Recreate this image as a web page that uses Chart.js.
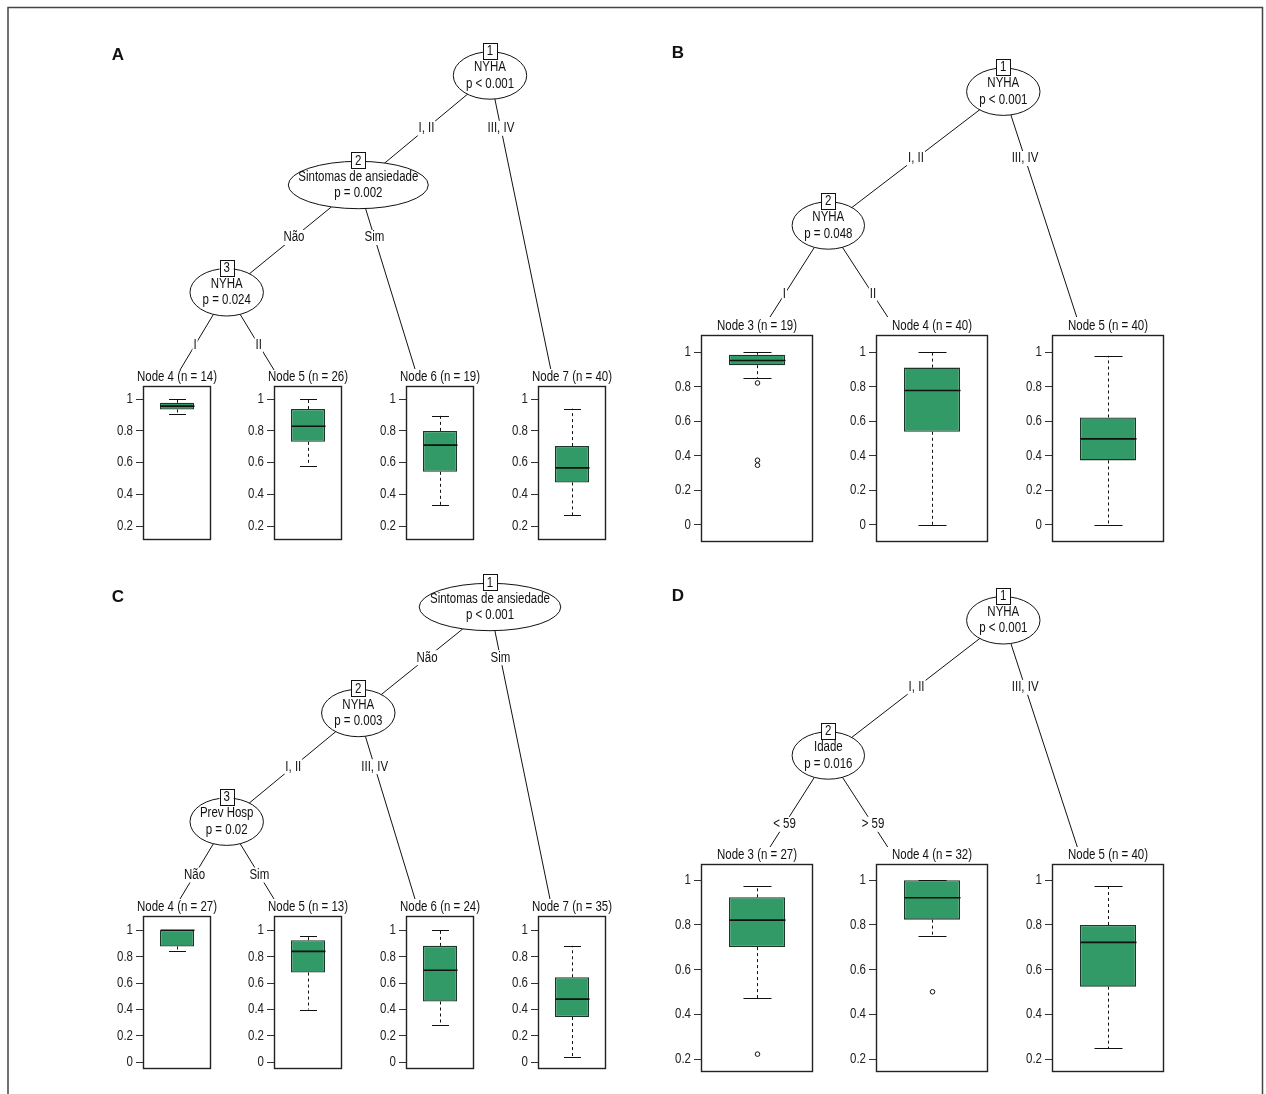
<!DOCTYPE html>
<html>
<head>
<meta charset="utf-8">
<script src="https://cdn.jsdelivr.net/npm/chart.js@4.4.1/dist/chart.umd.min.js"></script>
<style>
  body { margin: 0; background: #fff; }
  #page { position: relative; width: 1266px; height: 1094px; overflow: hidden; background: #fff; }
  #treeWrap { position: absolute; left: 0; top: 0; width: 1266px; height: 1094px; }
  .box { position: absolute; }
</style>
</head>
<body>
<div id="page">
  <div id="treeWrap"><canvas id="tree"></canvas></div>
</div>
<script>
// ---- data ----

// A
const nodesA = ['Node 4 (n = 14)', 'Node 5 (n = 26)', 'Node 6 (n = 19)', 'Node 7 (n = 40)'];
const lowA  = [0.906, 0.581, 0.333, 0.267];
const q1A   = [0.935, 0.731, 0.542, 0.475];
const medA  = [0.956, 0.829, 0.710, 0.567];
const q3A   = [0.977, 0.938, 0.800, 0.704];
const highA = [1.000, 1.000, 0.896, 0.940];
const outA  = [[], [], [], []];
const ticksA = [0.2, 0.4, 0.6, 0.8, 1];
const rangeA = [0.112, 1.083];

// B
const nodesB = ['Node 3 (n = 19)', 'Node 4 (n = 40)', 'Node 5 (n = 40)'];
const lowB  = [0.851, 0.000, 0.000];
const q1B   = [0.925, 0.539, 0.373];
const medB  = [0.952, 0.778, 0.498];
const q3B   = [0.986, 0.911, 0.622];
const highB = [1.000, 1.000, 0.979];
const outB  = [[0.822, 0.374, 0.345], [], []];
const ticksB = [0, 0.2, 0.4, 0.6, 0.8, 1];
const rangeB = [-0.1, 1.1];

// C
const nodesC = ['Node 4 (n = 27)', 'Node 5 (n = 13)', 'Node 6 (n = 24)', 'Node 7 (n = 35)'];
const lowC  = [0.842, 0.400, 0.281, 0.038];
const q1C   = [0.877, 0.680, 0.461, 0.343];
const medC  = [1.000, 0.840, 0.697, 0.479];
const q3C   = [1.000, 0.925, 0.882, 0.644];
const highC = [1.000, 0.960, 1.000, 0.882];
const outC  = [[], [], [], []];
const ticksC = [0, 0.2, 0.4, 0.6, 0.8, 1];
const rangeC = [-0.05, 1.108];

// D
const nodesD = ['Node 3 (n = 27)', 'Node 4 (n = 32)', 'Node 5 (n = 40)'];
const lowD  = [0.472, 0.749, 0.248];
const q1D   = [0.701, 0.824, 0.524];
const medD  = [0.822, 0.922, 0.722];
const q3D   = [0.924, 1.000, 0.800];
const highD = [0.975, 1.000, 0.975];
const outD  = [[0.222], [0.501], []];
const ticksD = [0.2, 0.4, 0.6, 0.8, 1];
const rangeD = [0.142, 1.073];

// tree nodes / splits
const treeA = {
  letter: 'A', lx: 118, ly: 55,
  nodes: [
    { id: 1, x: 490,   y: 75.5,  rx: 36.7, lines: ['NYHA', 'p < 0.001'] },
    { id: 2, x: 358.3, y: 185,   rx: 70,   lines: ['Sintomas de ansiedade', 'p = 0.002'] },
    { id: 3, x: 226.7, y: 292.3, rx: 36.7, lines: ['NYHA', 'p = 0.024'] }
  ],
  edges: [
    { from: 1, to: 2,            label: 'I, II',   ly: 128.3 },
    { from: 1, to: [550.7, 369], label: 'III, IV', ly: 128.3 },
    { from: 2, to: 3,            label: 'Não',     ly: 237.5 },
    { from: 2, to: [415, 369],   label: 'Sim',     ly: 237.5 },
    { from: 3, to: [180, 370],   label: 'I',       ly: 345 },
    { from: 3, to: [274, 370],   label: 'II',      ly: 345 }
  ]
};
const treeB = {
  letter: 'B', lx: 678, ly: 53,
  nodes: [
    { id: 1, x: 1003.3, y: 91.7,  rx: 36.7, lines: ['NYHA', 'p < 0.001'] },
    { id: 2, x: 828.3,  y: 225.5, rx: 36.2, lines: ['NYHA', 'p = 0.048'] }
  ],
  edges: [
    { from: 1, to: 2,             label: 'I, II',   ly: 158.5 },
    { from: 1, to: [1076.7, 317], label: 'III, IV', ly: 158.5 },
    { from: 2, to: [770, 317],    label: 'I',       ly: 294.3 },
    { from: 2, to: [887.7, 317],  label: 'II',      ly: 294.3 }
  ]
};
const treeC = {
  letter: 'C', lx: 118, ly: 597,
  nodes: [
    { id: 1, x: 490,   y: 607,   rx: 70.8, lines: ['Sintomas de ansiedade', 'p < 0.001'] },
    { id: 2, x: 358.3, y: 713,   rx: 36.7, lines: ['NYHA', 'p = 0.003'] },
    { id: 3, x: 226.7, y: 821.7, rx: 36.7, lines: ['Prev Hosp', 'p = 0.02'] }
  ],
  edges: [
    { from: 1, to: 2,          label: 'Não',     ly: 657.7 },
    { from: 1, to: [550, 899], label: 'Sim',     ly: 657.7 },
    { from: 2, to: 3,          label: 'I, II',   ly: 766.7 },
    { from: 2, to: [415, 899], label: 'III, IV', ly: 766.7 },
    { from: 3, to: [180, 899], label: 'Não',     ly: 875 },
    { from: 3, to: [274, 899], label: 'Sim',     ly: 875 }
  ]
};
const treeD = {
  letter: 'D', lx: 678, ly: 596,
  nodes: [
    { id: 1, x: 1003.3, y: 620.3, rx: 36.7, lines: ['NYHA', 'p < 0.001'] },
    { id: 2, x: 828.3,  y: 755.5, rx: 36.2, lines: ['Idade', 'p = 0.016'] }
  ],
  edges: [
    { from: 1, to: 2,             label: 'I, II',   ly: 687.3 },
    { from: 1, to: [1077.3, 847], label: 'III, IV', ly: 687.3 },
    { from: 2, to: [770, 847],    label: '< 59',    ly: 824.3 },
    { from: 2, to: [887.7, 847],  label: '> 59',    ly: 824.3 }
  ]
};

// ---- layout of the terminal panels (pixels) ----
const panelA = { lefts: [143, 274, 406, 538], width: 68, top: 386, bottom: 540 };
const panelB = { lefts: [701, 876, 1052], width: 112, top: 335, bottom: 542 };
const panelC = { lefts: [143, 274, 406, 538], width: 68, top: 916, bottom: 1069 };
const panelD = { lefts: [701, 876, 1052], width: 112, top: 864, bottom: 1072 };

// ---- fonts: narrow sans, or regular sans squeezed sideways ----
const probe = document.createElement('canvas').getContext('2d');
function textW(f) { probe.font = f; return probe.measureText('Sintomas de ansiedade').width; }
const hasNarrow = textW("14px 'Liberation Sans Narrow', monospace") !== textW('14px monospace');
const FONT = hasNarrow ? "'Liberation Sans Narrow', 'Arial Narrow', sans-serif" : "'Liberation Sans', Arial, sans-serif";
const FSIZE = 14;
const NX = hasNarrow ? 1 : 0.82;
const TXT = FSIZE + 'px ' + FONT;

Chart.defaults.font.family = FONT;
Chart.defaults.font.size = 12;
Chart.defaults.color = '#222';

function nText(ctx, s, x, y, align) {
  ctx.save();
  ctx.translate(x, y);
  ctx.scale(NX, 1);
  ctx.font = TXT;
  ctx.textAlign = align || 'center';
  ctx.textBaseline = 'middle';
  ctx.fillText(s, 0, 0);
  ctx.restore();
}
function nWidth(ctx, s) {
  ctx.save();
  ctx.font = TXT;
  const w = ctx.measureText(s).width * NX;
  ctx.restore();
  return w;
}

const GREEN = '#329a66';
const DARK = '#1b3527';

// box plot parts drawn through the y scale
const boxPlugin = {
  id: 'boxParts',
  afterDatasetsDraw(chart) {
    const st = chart.data.datasets[0].stats;
    const bar = chart.getDatasetMeta(0).data[0];
    const y = chart.scales.y;
    const ctx = chart.ctx;
    const x = Math.round(bar.x) + 0.5, hw = bar.width / 2;
    ctx.save();
    ctx.strokeStyle = '#111';
    ctx.lineWidth = 1;
    ctx.setLineDash([3, 3]);
    ctx.beginPath();
    ctx.moveTo(x, y.getPixelForValue(st.q3)); ctx.lineTo(x, y.getPixelForValue(st.high));
    ctx.moveTo(x, y.getPixelForValue(st.q1)); ctx.lineTo(x, y.getPixelForValue(st.low));
    ctx.stroke();
    ctx.setLineDash([]);
    ctx.lineWidth = 1.2;
    ctx.beginPath();
    [st.high, st.low].forEach(v => {
      const py = Math.round(y.getPixelForValue(v)) + 0.5;
      ctx.moveTo(x - hw / 2, py); ctx.lineTo(x + hw / 2, py);
    });
    ctx.stroke();
    ctx.lineWidth = 1.6;
    ctx.beginPath();
    const pm = y.getPixelForValue(st.med);
    ctx.moveTo(x - hw, pm); ctx.lineTo(x + hw, pm);
    ctx.stroke();
    ctx.lineWidth = 1;
    st.out.forEach(v => {
      ctx.beginPath();
      ctx.arc(x, y.getPixelForValue(v), 2.3, 0, Math.PI * 2);
      ctx.stroke();
    });
    ctx.restore();
  },
  afterDraw(chart) {
    const a = chart.chartArea, ctx = chart.ctx;
    const ys = chart.scales.y;
    ctx.save();
    ctx.strokeStyle = '#222';
    ctx.lineWidth = 1.4;
    ctx.strokeRect(a.left + 0.5, a.top + 0.5, a.right - a.left - 1, a.bottom - a.top - 1);
    ctx.fillStyle = '#222';
    ys.ticks.forEach(t => {
      nText(ctx, String(+t.value.toFixed(1)), a.left - 10, ys.getPixelForValue(t.value), 'right');
    });
    ctx.fillStyle = '#111';
    nText(ctx, chart.data.labels[0], (a.left + a.right) / 2, a.top - 8.5, 'center');
    ctx.restore();
  }
};

const AX = 40, PT = 22, PR = 18, PB = 2;

function makeBox(panel, i, title, stats, ticks, range) {
  const div = document.createElement('div');
  div.className = 'box';
  div.style.left = (panel.lefts[i] - AX) + 'px';
  div.style.top = (panel.top - PT) + 'px';
  div.style.width = (AX + panel.width + PR) + 'px';
  div.style.height = (PT + panel.bottom - panel.top + PB) + 'px';
  const cv = document.createElement('canvas');
  div.appendChild(cv);
  document.getElementById('page').appendChild(div);

  new Chart(cv, {
    type: 'bar',
    data: {
      labels: [title],
      datasets: [{
        data: [[stats.q1, stats.q3]],
        stats: stats,
        backgroundColor: GREEN,
        borderColor: DARK,
        borderWidth: 1.3,
        borderSkipped: false,
        barPercentage: 0.5,
        categoryPercentage: 1
      }]
    },
    options: {
      responsive: true,
      maintainAspectRatio: false,
      animation: false,
      layout: { padding: { top: PT, right: PR, bottom: PB, left: 0 } },
      plugins: { legend: { display: false }, tooltip: { enabled: false } },
      scales: {
        x: { display: false },
        y: {
          min: range[0],
          max: range[1],
          afterBuildTicks: s => { s.ticks = ticks.map(v => ({ value: v })); },
          afterFit: s => { s.width = AX; },
          grid: { drawOnChartArea: false, drawTicks: true, tickLength: 7, color: '#333', lineWidth: 1 },
          border: { display: false },
          ticks: { display: false }
        }
      }
    },
    plugins: [boxPlugin]
  });
}

function buildPanel(panel, names, low, q1, med, q3, high, out, ticks, range) {
  names.forEach((n, i) => {
    makeBox(panel, i, n, { low: low[i], q1: q1[i], med: med[i], q3: q3[i], high: high[i], out: out[i] }, ticks, range);
  });
}

buildPanel(panelA, nodesA, lowA, q1A, medA, q3A, highA, outA, ticksA, rangeA);
buildPanel(panelB, nodesB, lowB, q1B, medB, q3B, highB, outB, ticksB, rangeB);
buildPanel(panelC, nodesC, lowC, q1C, medC, q3C, highC, outC, ticksC, rangeC);
buildPanel(panelD, nodesD, lowD, q1D, medD, q3D, highD, outD, ticksD, rangeD);

// ---- trees, drawn on a page-sized chart ----
const RY = 23.7;

const treePlugin = {
  id: 'trees',
  afterDraw(chart) {
    const ctx = chart.ctx;
    const X = v => chart.scales.x.getPixelForValue(v);
    const Y = v => chart.scales.y.getPixelForValue(v);
    ctx.save();

    // outer frame
    ctx.strokeStyle = '#444';
    ctx.lineWidth = 1.5;
    ctx.beginPath();
    ctx.moveTo(X(8), Y(1094)); ctx.lineTo(X(8), Y(7.5)); ctx.lineTo(X(1262.5), Y(7.5)); ctx.lineTo(X(1262.5), Y(1094));
    ctx.stroke();

    [treeA, treeB, treeC, treeD].forEach(t => {
      const byId = {};
      t.nodes.forEach(n => { byId[n.id] = n; });

      ctx.fillStyle = '#111';
      ctx.font = 'bold 17px "Liberation Sans", Arial, sans-serif';
      ctx.textAlign = 'center';
      ctx.textBaseline = 'middle';
      ctx.fillText(t.letter, X(t.lx), Y(t.ly));

      // edges
      ctx.strokeStyle = '#111';
      ctx.lineWidth = 1;
      const ends = t.edges.map(e => {
        const p = byId[e.from];
        const q = Array.isArray(e.to) ? { x: e.to[0], y: e.to[1] } : byId[e.to];
        ctx.beginPath();
        ctx.moveTo(X(p.x), Y(p.y));
        ctx.lineTo(X(q.x), Y(q.y));
        ctx.stroke();
        return { p, q, e };
      });

      // inner nodes
      t.nodes.forEach(n => {
        ctx.beginPath();
        ctx.ellipse(X(n.x), Y(n.y), n.rx, RY, 0, 0, Math.PI * 2);
        ctx.fillStyle = '#fff';
        ctx.fill();
        ctx.lineWidth = 1;
        ctx.stroke();
        ctx.fillStyle = '#111';
        nText(ctx, n.lines[0], X(n.x), Y(n.y - 8.3));
        nText(ctx, n.lines[1], X(n.x), Y(n.y + 8.3));
        // id box
        const bx = X(n.x), by = Y(n.y - RY - 1);
        ctx.fillStyle = '#fff';
        ctx.fillRect(bx - 7, by - 8, 14, 16);
        ctx.strokeRect(Math.round(bx - 7) + 0.5, Math.round(by - 8) + 0.5, 14, 16);
        ctx.fillStyle = '#111';
        nText(ctx, String(n.id), bx, by + 0.5);
      });

      // split labels on the edges
      ends.forEach(({ p, q, e }) => {
        const lx = p.x + (q.x - p.x) * (e.ly - p.y) / (q.y - p.y);
        const w = nWidth(ctx, e.label) + 2;
        ctx.fillStyle = '#fff';
        ctx.fillRect(X(lx) - w / 2, Y(e.ly) - 7.5, w, 15);
        ctx.fillStyle = '#111';
        nText(ctx, e.label, X(lx), Y(e.ly));
      });
    });
    ctx.restore();
  }
};

new Chart(document.getElementById('tree'), {
  type: 'scatter',
  data: { datasets: [] },
  options: {
    responsive: true,
    maintainAspectRatio: false,
    animation: false,
    layout: { padding: 0 },
    plugins: { legend: { display: false }, tooltip: { enabled: false } },
    scales: {
      x: { type: 'linear', display: false, min: 0, max: 1266 },
      y: { type: 'linear', display: false, min: 0, max: 1094, reverse: true }
    }
  },
  plugins: [treePlugin]
});
</script>
</body>
</html>
